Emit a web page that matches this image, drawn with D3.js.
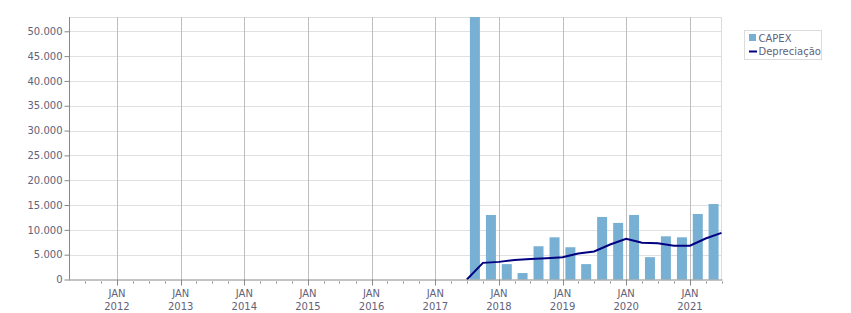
<!DOCTYPE html>
<html>
<head>
<meta charset="utf-8">
<script src="https://cdn.jsdelivr.net/npm/d3@7/dist/d3.min.js"></script>
<style>
  body { margin: 0; background: #fff; }
  svg text { font-family: Tahoma, "DejaVu Sans", sans-serif; font-size: 10px; fill: #62627a; }
</style>
</head>
<body>
<svg width="851" height="313"></svg>
<script>
// quarters (start month) for the bars
var capexQuarters = ["2017-07-01", "2017-10-01", "2018-01-01", "2018-04-01", "2018-07-01", "2018-10-01",
    "2019-01-01", "2019-04-01", "2019-07-01", "2019-10-01", "2020-01-01", "2020-04-01",
    "2020-07-01", "2020-10-01", "2021-01-01", "2021-04-01"];
var capexValues = [52880, 13000, 3100, 1300, 6700, 8500, 6500, 3100, 12600, 11400, 13000, 4500,
    8700, 8500, 13200, 15200];

// depreciation is plotted at the end of each quarter
var deprDates = ["2017-07-01", "2017-10-01", "2018-01-01", "2018-04-01", "2018-07-01", "2018-10-01",
    "2019-01-01", "2019-04-01", "2019-07-01", "2019-10-01", "2020-01-01", "2020-04-01",
    "2020-07-01", "2020-10-01", "2021-01-01", "2021-04-01", "2021-07-01"];
var deprValues = [0, 3350, 3550, 3950, 4150, 4300, 4500, 5250, 5650, 7050, 8200, 7400,
    7300, 6800, 6800, 8250, 9400];

var yTicks = [0, 5000, 10000, 15000, 20000, 25000, 30000, 35000, 40000, 45000, 50000];
var seriesNames = ["CAPEX", "Depreciação"];

var chart = new function () {
    var svg = d3.select("svg");
    var pLeft = 69, pRight = 721.5, pTop = 17, pBottom = 279.5;
    var parse = d3.timeParse("%Y-%m-%d");
    var fmt = d3.formatLocale({decimal: ",", thousands: ".", grouping: [3], currency: ["R$", ""]}).format(",.0f");

    var x = d3.scaleTime()
        .domain([new Date(2011, 3, 1), new Date(2021, 6, 1)])
        .range([pLeft, pRight]);
    var y = d3.scaleLinear().domain([0, 52880]).range([pBottom, pTop]);

    var g = svg.append("g");

    // horizontal grid
    g.selectAll("line.hgrid").data(yTicks.slice(1)).enter().append("line")
        .attr("x1", pLeft).attr("x2", pRight)
        .attr("y1", function(d) { return Math.round(y(d)) + 0.5; })
        .attr("y2", function(d) { return Math.round(y(d)) + 0.5; })
        .attr("stroke", "#e0e0e0");

    // plot border top/right
    g.append("line").attr("x1", pLeft).attr("x2", pRight).attr("y1", pTop + 0.5).attr("y2", pTop + 0.5).attr("stroke", "#dcdcdc");
    g.append("line").attr("x1", pRight).attr("x2", pRight).attr("y1", pTop).attr("y2", pBottom).attr("stroke", "#dcdcdc");

    // vertical grid at each january
    var years = d3.timeYear.range(new Date(2012, 0, 1), new Date(2021, 1, 1));
    g.selectAll("line.vgrid").data(years).enter().append("line")
        .attr("x1", function(d) { return Math.round(x(d)) + 0.5; })
        .attr("x2", function(d) { return Math.round(x(d)) + 0.5; })
        .attr("y1", pTop).attr("y2", pBottom)
        .attr("stroke", "#bdbdbd");

    // bars
    var barW = 10;
    g.selectAll("rect.bar").data(capexQuarters).enter().append("rect")
        .attr("x", function(d) { var s = parse(d); var e = d3.timeMonth.offset(s, 3); return (x(s) + x(e)) / 2 - barW / 2; })
        .attr("width", barW)
        .attr("y", function(d, i) { return y(capexValues[i]); })
        .attr("height", function(d, i) { return pBottom - y(capexValues[i]); })
        .attr("fill", "#78b0d3");

    // depreciation line
    var line = d3.line()
        .x(function(d) { return x(parse(d)); })
        .y(function(d, i) { return y(deprValues[i]); });
    g.append("path").datum(deprDates)
        .attr("d", line)
        .attr("fill", "none")
        .attr("stroke", "#000080")
        .attr("stroke-width", 2);

    // y axis
    var yAxis = d3.axisLeft(y).tickValues(yTicks).tickFormat(fmt).tickSize(5).tickPadding(2);
    var ya = svg.append("g").attr("transform", "translate(" + (pLeft + 0.5) + ",0)").call(yAxis);
    ya.select(".domain").attr("stroke", "#888").attr("d", "M0," + pTop + "V" + pBottom);
    ya.selectAll(".tick line").attr("stroke", "#888");
    ya.selectAll(".tick text").attr("font-size", null).attr("font-family", null).attr("fill", null);
    ya.attr("font-size", null).attr("font-family", null);

    // x axis
    svg.append("line").attr("x1", pLeft).attr("x2", pRight + 1).attr("y1", pBottom + 0.5).attr("y2", pBottom + 0.5).attr("stroke", "#888");
    var quarters = d3.timeMonth.every(3).range(new Date(2011, 6, 1), new Date(2021, 6, 2));
    svg.selectAll("line.minor").data(quarters).enter().append("line")
        .attr("x1", function(d) { return Math.round(x(d)) + 0.5; })
        .attr("x2", function(d) { return Math.round(x(d)) + 0.5; })
        .attr("y1", function(d) { return d.getMonth() === 0 ? pBottom : pBottom + 2; })
        .attr("y2", function(d) { return d.getMonth() === 0 ? pBottom + 6 : pBottom + 4; })
        .attr("stroke", "#888");
    var xl = svg.selectAll("g.xlab").data(years).enter().append("g")
        .attr("transform", function(d) { return "translate(" + x(d) + ",0)"; });
    xl.append("text").attr("text-anchor", "middle").attr("y", 297).text("JAN");
    xl.append("text").attr("text-anchor", "middle").attr("y", 310).text(function(d) { return d.getFullYear(); });

    // legend
    var lg = svg.append("g").attr("transform", "translate(744.5,30.5)");
    lg.append("rect").attr("width", 77).attr("height", 29).attr("fill", "#fff").attr("stroke", "#dcdcdc");
    lg.append("rect").attr("x", 4.5).attr("y", 3.5).attr("width", 7).attr("height", 7).attr("fill", "#78b0d3");
    lg.append("line").attr("x1", 4.5).attr("x2", 12.5).attr("y1", 21).attr("y2", 21).attr("stroke", "#000080").attr("stroke-width", 2);
    lg.append("text").attr("x", 14).attr("y", 11.5).text(seriesNames[0]);
    lg.append("text").attr("x", 14).attr("y", 24.5).text(seriesNames[1]);
};
</script>
</body>
</html>
